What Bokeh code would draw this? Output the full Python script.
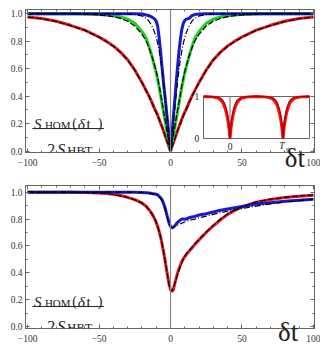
from bokeh.plotting import figure
from bokeh.models import (Range1d, LinearAxis, FixedTicker, Span, Label,
                          PrintfTickFormatter, CustomJSTickFormatter)
from bokeh.layouts import column
from bokeh.embed import file_html
from bokeh.resources import INLINE

# ---------------- data ----------------
t_grid = [-100, -90, -80, -70, -60, -50, -45, -40, -35, -30, -25, -20, -17, -15, -13, -11,
          -10, -9, -8, -7, -6, -5, -4, -3, -2, -1, 0, 1, 2, 3, 4, 5, 6, 7, 8, 9, 10, 11,
          13, 15, 17, 20, 25, 30, 35, 40, 45, 50, 60, 70, 80, 90, 100]

top_red = [.975, .965, .945, .915, .88, .83, .80, .765, .72, .665, .59, .50, .44, .40, .355, .305,
           .285, .26, .235, .205, .18, .15, .12, .09, .06, .03, 0.0,
           .03, .06, .09, .12, .15, .18, .205, .235, .26, .285, .305, .355, .40, .44, .50, .59,
           .665, .72, .765, .80, .83, .88, .915, .945, .965, .975]
top_green = [1.0, 1.0, 1.0, 1.0, .998, .994, .99, .985, .975, .96, .93, .87, .82, .76, .69, .61,
             .57, .52, .47, .41, .35, .29, .23, .17, .11, .05, 0.0,
             .05, .11, .17, .23, .29, .35, .41, .47, .52, .57, .61, .69, .76, .82, .87, .93,
             .96, .975, .985, .99, .994, .998, 1.0, 1.0, 1.0, 1.0]
top_blue = [1.0, 1.0, 1.0, 1.0, 1.0, 1.0, 1.0, 1.0, 1.0, 1.0, 1.0, .997, .99, .985, .975, .96,
            .945, .91, .83, .73, .62, .51, .41, .31, .21, .10, 0.0,
            .12, .25, .37, .50, .62, .73, .82, .89, .93, .95, .96, .965, .985, .993, .998, 1.0,
            1.0, 1.0, 1.0, 1.0, 1.0, 1.0, 1.0, 1.0, 1.0, 1.0]
fit_red_top = [.975, .963, .943, .913, .878, .828, .798, .762, .718, .662, .588, .498, .438, .398, .352, .302,
               .282, .258, .232, .205, .178, .15, .12, .09, .06, .03, 0.0,
               .03, .06, .09, .12, .15, .178, .205, .232, .258, .282, .302, .352, .398, .438, .498, .588,
               .662, .718, .762, .798, .828, .878, .913, .943, .963, .975]
fit_green_top = [1.0, 1.0, 1.0, .999, .997, .99, .985, .978, .965, .945, .91, .85, .80, .75, .69, .62,
                 .58, .535, .48, .42, .36, .30, .24, .18, .12, .06, 0.0,
                 .06, .12, .18, .24, .30, .36, .42, .48, .535, .58, .62, .69, .75, .80, .85, .91,
                 .945, .965, .978, .985, .99, .997, .999, 1.0, 1.0, 1.0]
fit_blue_top = [1.0, 1.0, 1.0, 1.0, 1.0, 1.0, 1.0, 1.0, .999, .997, .993, .983, .965, .945, .91, .86,
                .825, .785, .735, .67, .60, .51, .41, .31, .21, .105, 0.0,
                .105, .21, .31, .41, .51, .60, .67, .735, .785, .825, .86, .91, .945, .965, .983, .993,
                .997, .999, 1.0, 1.0, 1.0, 1.0, 1.0, 1.0, 1.0, 1.0]

bot_red = [1.0, 1.0, 1.0, 1.0, .998, .995, .99, .985, .975, .962, .945, .92, .895, .87, .84, .80,
           .775, .745, .71, .67, .62, .565, .505, .44, .375, .315, .275,
           .26, .275, .32, .36, .40, .43, .46, .485, .505, .52, .535, .56, .585, .61, .645, .70,
           .75, .795, .835, .865, .89, .925, .945, .96, .97, .978]
bot_blue = [1.0, 1.0, 1.0, 1.0, 1.0, 1.0, 1.0, 1.0, 1.0, 1.0, 1.0, .998, .996, .994, .99, .987,
            .985, .98, .97, .96, .945, .92, .89, .85, .81, .77, .745,
            .735, .74, .75, .765, .775, .785, .795, .80, .80, .798, .80, .81, .815, .82, .83, .84,
            .853, .866, .875, .884, .893, .912, .922, .932, .94, .948]
fit_red_bot = [1.0, 1.0, 1.0, 1.0, .998, .995, .99, .983, .973, .96, .943, .918, .893, .868, .838, .80,
               .775, .745, .71, .67, .62, .565, .505, .44, .375, .31, .265,
               .265, .285, .32, .355, .39, .42, .45, .475, .50, .52, .54, .565, .59, .615, .65, .705,
               .755, .80, .838, .868, .892, .927, .948, .962, .972, .98]
fit_blue_bot = [1.0, 1.0, 1.0, 1.0, 1.0, 1.0, 1.0, 1.0, 1.0, 1.0, 1.0, .998, .995, .992, .988, .983,
                .98, .975, .967, .955, .94, .915, .88, .84, .80, .765, .735,
                .735, .74, .745, .75, .755, .76, .765, .77, .775, .778, .782, .79, .795, .80, .81, .822,
                .835, .847, .858, .868, .878, .897, .913, .927, .938, .948]

inset_u = [-0.5, -0.4, -0.3, -0.22, -0.17, -0.13, -0.1, -0.07, -0.05, -0.03, -0.02, -0.01, 0.0,
           0.01, 0.02, 0.03, 0.05, 0.07, 0.1, 0.13, 0.17, 0.22, 0.3, 0.4, 0.5,
           0.6, 0.7, 0.78, 0.83, 0.87, 0.9, 0.93, 0.95, 0.97, 0.98, 0.99, 1.0,
           1.01, 1.02, 1.03, 1.05, 1.07, 1.1, 1.13, 1.17, 1.22, 1.3, 1.4, 1.5]
inset_bright = [1.0, .997, .985, .96, .91, .84, .75, .62, .50, .35, .25, .13, 0.0,
                .13, .25, .35, .50, .62, .75, .84, .91, .96, .985, .997, 1.0,
                .997, .985, .96, .91, .84, .75, .62, .50, .35, .25, .13, 0.0,
                .13, .25, .35, .50, .62, .75, .84, .91, .96, .985, .997, 1.0]
inset_dark = [1.0, .999, .993, .98, .95, .90, .83, .71, .60, .45, .33, .18, 0.0,
              .18, .33, .45, .60, .71, .83, .90, .95, .98, .993, .999, 1.0,
              .999, .993, .98, .95, .90, .83, .71, .60, .45, .33, .18, 0.0,
              .18, .33, .45, .60, .71, .83, .90, .95, .98, .993, .999, 1.0]

x_ticks = [-100, -50, 0, 50, 100]
x_minor = list(range(-100, 101, 10))
x_labels = {-100: "\u2212100", -50: "\u221250", 0: "0", 50: "50", 100: "100"}
y_ticks = [0, 0.2, 0.4, 0.6, 0.8, 1]
y_minor = [0, 0.1, 0.2, 0.3, 0.4, 0.5, 0.6, 0.7, 0.8, 0.9, 1]
x_axis_title = "\u03b4t"

RED = "#e8151b"
GREEN = "#1fd01f"
BLUE = "#1a1ad0"
SERIF = "Liberation Serif"
TXT = "#222222"


def make_fig(h, top, bottom, yr, title_standoff, title_pad):
    p = figure(width=320, height=h, x_range=Range1d(-101.5, 100.8), y_range=Range1d(*yr),
               output_backend="svg", toolbar_location=None,
               min_border_left=25, min_border_right=6, min_border_top=top, min_border_bottom=bottom)
    p.grid.visible = False
    p.outline_line_color = "#666666"
    xt = FixedTicker(ticks=x_ticks, minor_ticks=x_minor)
    yt = FixedTicker(ticks=y_ticks, minor_ticks=y_minor)
    xb = p.below[0]
    yl = p.left[0]
    xb.ticker = xt
    yl.ticker = yt
    xb.major_label_overrides = x_labels
    yl.formatter = PrintfTickFormatter(format="%.1f")
    xb.major_label_standoff = 6
    yl.major_label_standoff = 3
    xb.major_label_text_font_size = "9.5px"
    yl.major_label_text_font_size = "9.5px"
    # big "δt" axis title: centred title padded on the left so that it sits at the right end,
    # pulled up over the tick-label strip
    xb.axis_label = "\u00a0" * title_pad + x_axis_title
    xb.axis_label_text_font = SERIF
    xb.axis_label_text_font_style = "normal"
    xb.axis_label_text_font_size = "27px"
    xb.axis_label_text_color = TXT
    xb.axis_label_standoff = title_standoff
    xa = LinearAxis(ticker=xt, formatter=CustomJSTickFormatter(code="return ''"),
                    major_label_text_font_size="1px", major_label_standoff=0)
    yr_ax = LinearAxis(ticker=yt, formatter=CustomJSTickFormatter(code="return ''"),
                       major_label_text_font_size="1px", major_label_standoff=0)
    p.add_layout(xa, "above")
    p.add_layout(yr_ax, "right")
    for ax in (xb, yl, xa, yr_ax):
        ax.axis_line_color = "#666666"
        ax.major_tick_in = 4
        ax.major_tick_out = 0
        ax.minor_tick_in = 2
        ax.minor_tick_out = 0
        ax.major_tick_line_color = "#666666"
        ax.minor_tick_line_color = "#666666"
        ax.major_label_text_font = SERIF
        ax.major_label_text_color = "#333333"
    p.add_layout(Span(location=0, dimension="height", line_color="#888888", line_width=1.2))
    return p


def lab(p, x, y, text, size, style="normal", align="left", baseline="alphabetic", **kw):
    p.add_layout(Label(x=x, y=y, text=text, text_font=SERIF, text_font_size=size,
                       text_font_style=style, text_color=TXT, text_align=align,
                       text_baseline=baseline, **kw))


def fraction(p, ys):
    y_num, y_sub, y_bar, y_den, y_den_sub = ys
    lab(p, -95.6, y_num, "S", "15px", "italic")
    lab(p, -87.9, y_sub, "HOM", "11px")
    lab(p, -68.7, y_num, "(", "14px")
    lab(p, -65.0, y_num, "\u03b4", "15.5px", "italic")
    lab(p, -58.8, y_num, "t", "15px")
    lab(p, -51.0, y_num, ")", "14px")
    p.segment(x0=[-96.7], y0=[y_bar], x1=[-46.6], y1=[y_bar], line_color=TXT, line_width=1)
    lab(p, -86.2, y_den, "2", "16px")
    lab(p, -79.2, y_den, "S", "16px", "italic")
    lab(p, -72.2, y_den_sub, "HBT", "12.5px")


# ---------------- top panel ----------------
p1 = make_fig(175, 9, 23, (-0.01, 1.03), -26, 37)
p1.line(t_grid, top_red, line_color=RED, line_width=3)
p1.line(t_grid, top_green, line_color=GREEN, line_width=3)
p1.line(t_grid, top_blue, line_color=BLUE, line_width=3)
p1.line(t_grid, fit_red_top, line_color="black", line_width=1.2, line_dash="6 2")
p1.line(t_grid, fit_green_top, line_color="black", line_width=1.2, line_dash="6 2")
p1.line(t_grid, fit_blue_top, line_color="black", line_width=1.2, line_dash="6 2 1 2")
fraction(p1, (0.2, 0.188, 0.164, 0.011, -0.002))

# inset drawn through extra ranges placed over a sub-box of the frame
FW, FH = 289, 143
box_l, box_r, box_t, box_b = 178, 284, 87, 129
u0, u1, w0, w1 = -0.5, 1.5, 0.0, 1.0
su = (u1 - u0) * FW / (box_r - box_l)
us = u0 - box_l / (box_r - box_l) * (u1 - u0)
sw = (w1 - w0) * FH / (box_b - box_t)
ws = w0 - (FH - box_b) / (box_b - box_t) * (w1 - w0)
p1.extra_x_ranges = {"ix": Range1d(us, us + su)}
p1.extra_y_ranges = {"iy": Range1d(ws, ws + sw)}
p1.quad(left=[u0], right=[u1], bottom=[w0], top=[w1], fill_color="white", line_color="#666666",
        line_width=1, x_range_name="ix", y_range_name="iy")
p1.segment(x0=[0], y0=[0], x1=[0], y1=[1], line_color="#888888", line_width=1.2,
           x_range_name="ix", y_range_name="iy")
inset_xt = [0, 1]
inset_yt = [0, 1]
p1.segment(x0=inset_xt, y0=[0, 0], x1=inset_xt, y1=[0.07, 0.07], line_color="#666666",
           x_range_name="ix", y_range_name="iy")
p1.segment(x0=[u0, u0], y0=inset_yt, x1=[u0 + 0.05, u0 + 0.05], y1=inset_yt, line_color="#666666",
           x_range_name="ix", y_range_name="iy")
p1.line(inset_u, inset_bright, line_color="#ff1010", line_width=3, x_range_name="ix", y_range_name="iy")
p1.line(inset_u, inset_dark, line_color="#b00000", line_width=1.3, x_range_name="ix", y_range_name="iy")
lab(p1, u0 - 0.08, 1, "1", "9.5px", align="right", baseline="middle", x_range_name="ix", y_range_name="iy")
lab(p1, u0 - 0.08, 0, "0", "9.5px", align="right", baseline="middle", x_range_name="ix", y_range_name="iy")
lab(p1, 0, -0.2, "0", "9.5px", align="center", baseline="middle", x_range_name="ix", y_range_name="iy")
lab(p1, 0.98, -0.18, "T", "9.5px", "italic", align="center", baseline="middle", x_range_name="ix", y_range_name="iy")
lab(p1, 1.06, -0.27, "0", "7px", baseline="middle", x_range_name="ix", y_range_name="iy")

# ---------------- bottom panel ----------------
p2 = make_fig(174, 10, 21, (-0.015, 1.05), -28, 35)
p2.line(t_grid, bot_red, line_color=RED, line_width=3)
p2.line(t_grid, bot_blue, line_color=BLUE, line_width=3)
p2.line(t_grid, fit_red_bot, line_color="black", line_width=1.2, line_dash="6 2")
p2.line(t_grid, fit_blue_bot, line_color="black", line_width=1.2, line_dash="6 2 1 2")
fraction(p2, (0.186, 0.173, 0.149, 0.0, -0.01))

layout = column(p1, p2)
open("out.html", "w").write(file_html(layout, INLINE))
